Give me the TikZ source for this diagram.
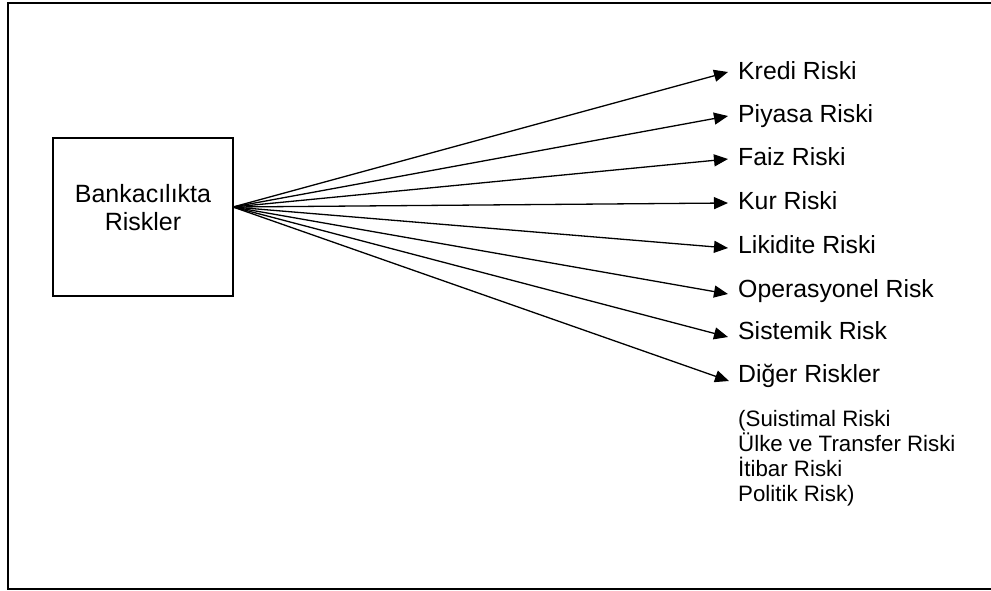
\documentclass[tikz,border=0pt]{standalone}
\usepackage{fontspec}
\setmainfont{Liberation Sans}
\usetikzlibrary{arrows.meta}
\begin{document}
\begin{tikzpicture}[x=1pt,y=-1pt,
  lbl/.style={anchor=base west, inner sep=0pt, font=\fontsize{24.8}{28}\selectfont},
  conn/.style={line width=1.3pt, -{Triangle[length=14pt,width=12pt]}},
  boxstyle/.style={draw, line width=1.6pt, minimum width=180pt, minimum height=158pt, inner sep=0pt}]
\useasboundingbox (0,0) rectangle (991,590);
\clip (0,0) rectangle (991,590);
\draw[line width=2pt] (1000,3) -- (7.5,3) -- (7.5,589) -- (1000,589);
\node[boxstyle] (box) at (143,217) {};
\node[align=center, inner sep=0pt, font=\fontsize{25}{27.5}\selectfont] (boxtxt) at (143,207.5) {Bankacılıkta\\Riskler};
\coordinate (src) at (233,207);
\node[lbl] (l1) at (738,79) {Kredi Riski};
\node[lbl] (l2) at (738,122) {Piyasa Riski};
\node[lbl] (l3) at (738,165) {Faiz Riski};
\node[lbl] (l4) at (738,209) {Kur Riski};
\node[lbl] (l5) at (738,253) {Likidite Riski};
\node[lbl] (l6) at (738,297) {Operasyonel Risk};
\node[lbl] (l7) at (738,339) {Sistemik Risk};
\node[lbl] (l8) at (738,382) {Diğer Riskler};
\node[anchor=north west, inner sep=0pt, align=left, font=\fontsize{22.3}{25}\selectfont] (sub) at (738,410.5) {(Suistimal Riski\\Ülke ve Transfer Riski\\İtibar Riski\\Politik Risk)};
\coordinate (t1) at (728,72);
\coordinate (t2) at (728,116);
\coordinate (t3) at (728,159);
\coordinate (t4) at (728,203);
\coordinate (t5) at (728,248);
\coordinate (t6) at (728,294);
\coordinate (t7) at (728,337);
\coordinate (t8) at (729,381);
\foreach \i in {1,...,8} \draw[conn] (src) -- (t\i);
\end{tikzpicture}
\end{document}
